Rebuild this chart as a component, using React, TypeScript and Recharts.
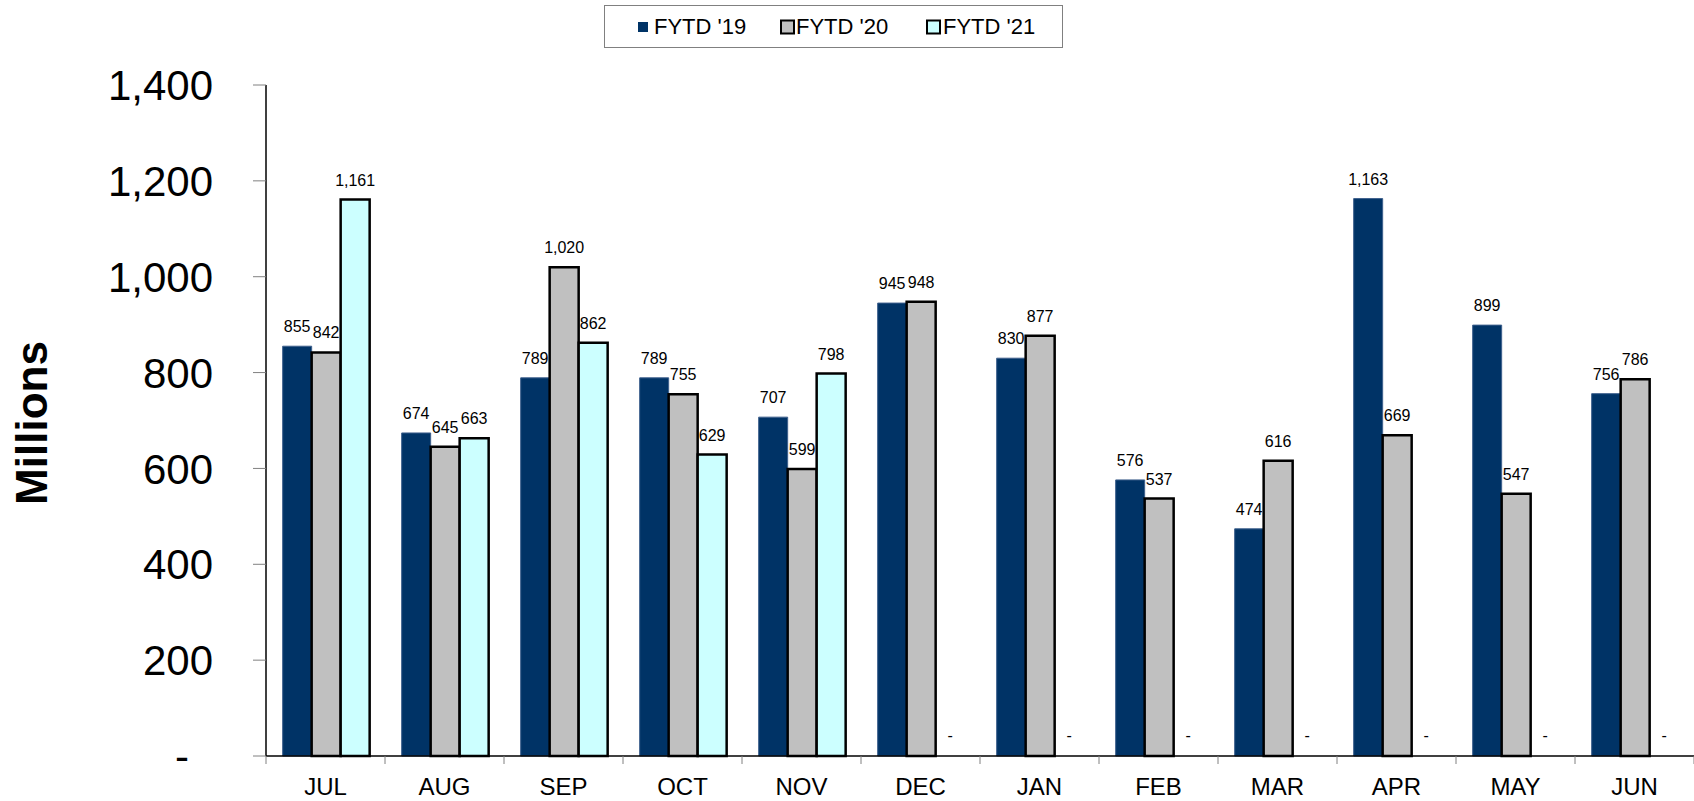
import { BarChart, Bar, XAxis, YAxis, Legend, LabelList, Rectangle } from "recharts"

const months = ["JUL", "AUG", "SEP", "OCT", "NOV", "DEC", "JAN", "FEB", "MAR", "APR", "MAY", "JUN"]
const fytd19 = [855, 674, 789, 789, 707, 945, 830, 576, 474, 1163, 899, 756]
const fytd20 = [842, 645, 1020, 755, 599, 948, 877, 537, 616, 669, 547, 786]
const fytd21 = [1161, 663, 862, 629, 798, 0, 0, 0, 0, 0, 0, 0]
const yTicks = [0, 200, 400, 600, 800, 1000, 1200, 1400]

const data = months.map((m, i) => ({ month: m, fy19: fytd19[i], fy20: fytd20[i], fy21: fytd21[i] }))

const FONT = "'Liberation Sans', Arial, sans-serif"
const W = 1694
const H = 801
const LEFT = 266
const BAND = (W - LEFT) / months.length

const fmt = (v: number) => (v === 0 ? "-" : v.toLocaleString("en-US"))

const XTick = (props: any) => {
  const { x, y, payload, index } = props
  const axisY = y - 8
  return (
    <g>
      <line x1={x - BAND / 2} x2={x - BAND / 2} y1={axisY} y2={axisY + 8} stroke="#808080" />
      {index === months.length - 1 && (
        <line x1={x + BAND / 2} x2={x + BAND / 2} y1={axisY} y2={axisY + 8} stroke="#808080" />
      )}
      <text x={x} y={y + 31} textAnchor="middle" fontSize={24} fontFamily={FONT} fill="#000">
        {payload.value}
      </text>
    </g>
  )
}

const YTick = (props: any) => {
  const { x, y, payload } = props
  const v = payload.value
  return (
    <text
      x={v === 0 ? x - 24 : x}
      y={y}
      dy="0.36em"
      textAnchor="end"
      fontSize={42}
      fontFamily={FONT}
      fill="#000"
    >
      {fmt(v)}
    </text>
  )
}

// data labels, zero months get a dash like the excel accounting format
const DataLabel = (props: any) => {
  const { x, y, width, value } = props
  return (
    <text x={x + width / 2} y={y - 14} textAnchor="middle" fontSize={16} fontFamily={FONT} fill="#000">
      {fmt(Number(value))}
    </text>
  )
}

// zero bars get a 1px min size so their label shows, but draw nothing
const BarShape = (props: any) => {
  const v = props.payload?.[props.dataKey]
  if (!v) return <g />
  return <Rectangle {...props} />
}

const legendItems = [
  { label: "FYTD '19", fill: "#003366", stroke: "none", sx: 33, size: 10, tx: 49 },
  { label: "FYTD '20", fill: "#C0C0C0", stroke: "#000", sx: 176, size: 13, tx: 191 },
  { label: "FYTD '21", fill: "#CCFFFF", stroke: "#000", sx: 322, size: 13, tx: 338 },
]

const LegendBox = () => (
  <div style={{ width: 459, height: 43, border: "1px solid #808080", boxSizing: "border-box", background: "#fff" }}>
    <svg width={457} height={41}>
      {legendItems.map((it) => (
        <g key={it.label}>
          <rect
            x={it.sx}
            y={21 - it.size / 2}
            width={it.size}
            height={it.size}
            fill={it.fill}
            stroke={it.stroke}
            strokeWidth={2}
          />
          <text x={it.tx} y={28} fontSize={22} fontFamily={FONT} fill="#000">
            {it.label}
          </text>
        </g>
      ))}
    </svg>
  </div>
)

const YLabel = () => (
  <text
    x={47}
    y={423}
    transform="rotate(-90, 47, 423)"
    textAnchor="middle"
    fontSize={44}
    fontWeight="bold"
    fontFamily={FONT}
    fill="#000"
  >
    Millions
  </text>
)

export default function App() {
  return (
    <div style={{ position: "absolute", left: 0, top: 0, width: W, height: H, background: "#fff" }}>
      <BarChart
        width={W}
        height={H}
        data={data}
        margin={{ top: 85, right: 0, bottom: 0, left: 0 }}
        barGap={0}
        barCategoryGap="14%"
      >
        <XAxis
          dataKey="month"
          height={45}
          axisLine={{ stroke: "#000", strokeWidth: 1.5 }}
          tickLine={false}
          tickSize={8}
          tickMargin={0}
          tick={<XTick />}
          interval={0}
        />
        <YAxis
          width={LEFT}
          domain={[0, 1400]}
          ticks={yTicks}
          interval={0}
          axisLine={{ stroke: "#000", strokeWidth: 1.5 }}
          tickLine={{ stroke: "#808080" }}
          tickSize={13}
          tickMargin={40}
          tick={<YTick />}
          label={<YLabel />}
        />
        <Legend
          layout="horizontal"
          verticalAlign="middle"
          align="center"
          wrapperStyle={{ position: "absolute", top: 5, left: 604, width: 459, height: 43 }}
          content={<LegendBox />}
        />
        <Bar dataKey="fy19" name="FYTD '19" fill="#003366" stroke="#3d5f8c" strokeWidth={1} isAnimationActive={false}>
          <LabelList dataKey="fy19" content={<DataLabel />} />
        </Bar>
        <Bar dataKey="fy20" name="FYTD '20" fill="#C0C0C0" stroke="#000" strokeWidth={2.5} isAnimationActive={false}>
          <LabelList dataKey="fy20" content={<DataLabel />} />
        </Bar>
        <Bar
          dataKey="fy21"
          name="FYTD '21"
          fill="#CCFFFF"
          stroke="#000"
          strokeWidth={2.5}
          minPointSize={1}
          shape={<BarShape />}
          isAnimationActive={false}
        >
          <LabelList dataKey="fy21" content={<DataLabel />} />
        </Bar>
      </BarChart>
    </div>
  )
}
